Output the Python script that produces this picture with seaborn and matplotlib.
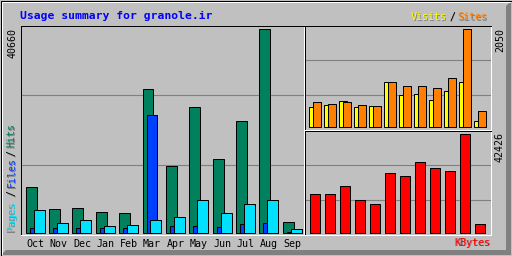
import numpy as np
import matplotlib
matplotlib.use('Agg')
import matplotlib.pyplot as plt
from matplotlib.patches import Polygon, Rectangle
import seaborn as sns

W, H = 512, 256
BG = '#C0C0C0'

months = ['Oct', 'Nov', 'Dec', 'Jan', 'Feb', 'Mar', 'Apr', 'May', 'Jun', 'Jul', 'Aug', 'Sep']
hits = [9185, 4811, 5010, 4215, 4016, 28670, 13360, 25090, 14750, 22310, 40660, 2227]
files = [1093, 1093, 1093, 1093, 1093, 23500, 1490, 1490, 1290, 1830, 2030, 300]
pages = [4612, 2028, 2624, 1431, 1630, 2624, 3221, 6600, 4016, 5805, 6600, 835]
visits = [422, 463, 547, 422, 443, 944, 672, 693, 568, 756, 944, 129]
sites = [526, 484, 526, 463, 443, 944, 860, 860, 818, 1027, 2050, 338]
kbytes = [16500, 16500, 19960, 13910, 12180, 25580, 24280, 30330, 27740, 26440, 42426, 3540]

sns.set_theme(style='white')
plt.rcParams['font.family'] = ['DejaVu Sans Mono']

fig = plt.figure(figsize=(W / 100, H / 100), dpi=100)
fig.patch.set_facecolor(BG)

# frame with bevel
bg = fig.add_axes([0, 0, 1, 1], zorder=-5)
bg.set_xlim(0, W)
bg.set_ylim(H, 0)
bg.axis('off')
bg.add_patch(Polygon([(511, 1), (511, 255), (1, 255), (6, 250), (506, 250), (506, 6)],
                     closed=True, facecolor='#808080', edgecolor='none'))
bg.plot([1.5, 509.5], [1.5, 1.5], color='white', lw=0.72)
bg.plot([1.5, 1.5], [1.5, 253.5], color='white', lw=0.72)
bg.add_patch(Rectangle((0.5, 0.5), 511, 255, facecolor='none', edgecolor='black', lw=0.72))


def panel(x0, y0, x1, y1):
    return fig.add_axes([x0 / W, 1 - y1 / H, (x1 - x0) / W, (y1 - y0) / H])


def draw_bars(ax, values, offset, width, color):
    sns.barplot(x=np.arange(len(values)) + offset, y=values, native_scale=True,
                width=width, color=color, saturation=1, edgecolor='black',
                linewidth=0.72, errorbar=None, ax=ax)


def style_panel(ax, xlim, ylim):
    ax.set_facecolor(BG)
    ax.set_xlim(*xlim)
    ax.set_ylim(*ylim)
    lo, hi = ylim
    ax.set_yticks([lo + (hi - lo) * k / 3 for k in (1, 2)])
    ax.yaxis.grid(True, color='#808080', linewidth=0.8)
    ax.xaxis.grid(False)
    ax.set_axisbelow(True)
    ax.tick_params(left=False, labelleft=False, bottom=False, labelbottom=False, length=0)
    for side, c in (('left', 'black'), ('top', 'black'), ('right', 'white'), ('bottom', 'white')):
        ax.spines[side].set_visible(True)
        ax.spines[side].set_color(c)
        ax.spines[side].set_linewidth(0.72)
    ax.set_xlabel('')
    ax.set_ylabel('')


# main panel: hits / files / pages
ax = panel(20.5, 25.5, 304, 234.5)
draw_bars(ax, hits, 0, 0.47, '#00805C')
draw_bars(ax, files, 0.171, 0.47, '#0040FF')
draw_bars(ax, pages, 0.342, 0.47, '#00E0FF')
style_panel(ax, (-0.458, 11.678), (-199, 41356))
ax.set_xticks(np.arange(len(months)) + 0.17)
ax.set_xticklabels(months)
ax.tick_params(axis='x', bottom=False, labelbottom=True, length=0, pad=3.5,
               labelsize=7.2, labelcolor='black')

# visits / sites
ax2 = panel(305, 25.5, 491, 129.5)
draw_bars(ax2, visits, 0, 0.49, '#FFFF00')
draw_bars(ax2, sites, 0.267, 0.49, '#FF8000')
style_panel(ax2, (-0.533, 11.867), (-41.8, 2129))

# kbytes
ax3 = panel(305, 130.5, 491, 235)
draw_bars(ax3, kbytes, 0, 0.627, '#FF0000')
style_panel(ax3, (-0.667, 11.733), (-1080, 44068))


def label(x, y, s, color, shadow=True, **kw):
    if shadow:
        fig.text((x + 1) / W, 1 - (y + 1) / H, s, color='#808080', **kw)
    fig.text(x / W, 1 - y / H, s, color=color, **kw)


fig.text(20 / W, 1 - 19 / H, 'Usage summary for granole.ir', color='#0000FF',
         fontsize=8.2, fontweight='bold', va='baseline', ha='left')

small = dict(fontsize=7.2, va='baseline', ha='left')
label(411, 19.7, 'Visits', '#FFFF00', **small)
label(449, 19.7, '/', 'black', **small)
label(457, 19.7, 'Sites', '#FF8000', **small)
label(454, 245.5, 'KBytes', '#FF0000', **small)

rot = dict(fontsize=7.2, rotation=90, rotation_mode='anchor', ha='left', va='baseline')
label(14.5, 231, 'Pages', '#00E0FF', **rot)
label(14.5, 196, '/', 'black', **rot)
label(14.5, 187, 'Files', '#0040FF', **rot)
label(14.5, 156, '/', 'black', **rot)
label(14.5, 147, 'Hits', '#00805C', **rot)

num = dict(fontsize=7.2, rotation=90, ha='center', va='top', color='black')
fig.text(13 / W, 1 - 27.5 / H, '40660', **num)
fig.text(500 / W, 1 - 28 / H, '2050', **num)
fig.text(500 / W, 1 - 132 / H, '42426', **num)

fig.savefig('out.png', dpi=100, facecolor=fig.get_facecolor())
